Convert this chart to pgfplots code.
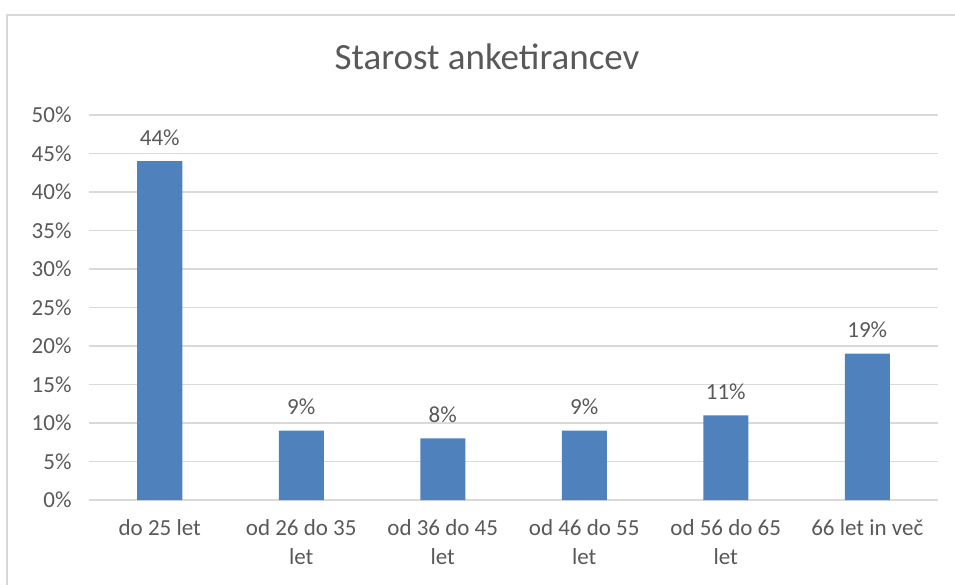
\documentclass[border=0pt]{standalone}
\usepackage{pgfplots}
\pgfplotsset{compat=1.18}
\usepackage{fontspec}
\setmainfont{Carlito}
\definecolor{barblue}{HTML}{4F81BD}
\definecolor{txt}{HTML}{595959}
\definecolor{gridc}{HTML}{D9D9D9}
\begin{document}
\begin{tikzpicture}
\useasboundingbox (-89bp,-85bp) rectangle (866bp,500bp);
\draw[gridc, line width=1.2bp] (-82bp,-120bp) -- (-82bp,485bp) -- (900bp,485bp);
\node[txt, font=\fontsize{37bp}{44bp}\selectfont, anchor=base] at (398bp,430bp) {Starost anketirancev};
\begin{axis}[
  at={(0,0)}, anchor=south west,
  scale only axis, width=849bp, height=385bp,
  ybar, bar width=45bp,
  xmin=-0.5, xmax=5.5, ymin=0, ymax=50,
  xtick=data,
  xticklabels={do 25 let, {od 26 do 35\\let}, {od 36 do 45\\let}, {od 46 do 55\\let}, {od 56 do 65\\let}, 66 let in več},
  xticklabel style={align=center, font=\fontsize{23bp}{29bp}\selectfont, text=txt, yshift=-16bp},
  ytick={0,5,...,50},
  yticklabels={0\%,5\%,10\%,15\%,20\%,25\%,30\%,35\%,40\%,45\%,50\%},
  yticklabel style={font=\fontsize{23bp}{26bp}\selectfont, text=txt, xshift=-14bp},
  major tick length=0pt,
  ymajorgrids, grid style={gridc, line width=1.2bp},
  axis line style={draw=none},
  axis x line*=bottom,
  nodes near coords={\pgfmathprintnumber{\pgfplotspointmeta}\%},
  every node near coord/.append style={font=\fontsize{23bp}{26bp}\selectfont, text=txt, yshift=12bp},
  /pgf/number format/assume math mode=true,
]
\addplot[fill=barblue, draw=none] coordinates {(0,44) (1,9) (2,8) (3,9) (4,11) (5,19)};
\end{axis}
\end{tikzpicture}
\end{document}
